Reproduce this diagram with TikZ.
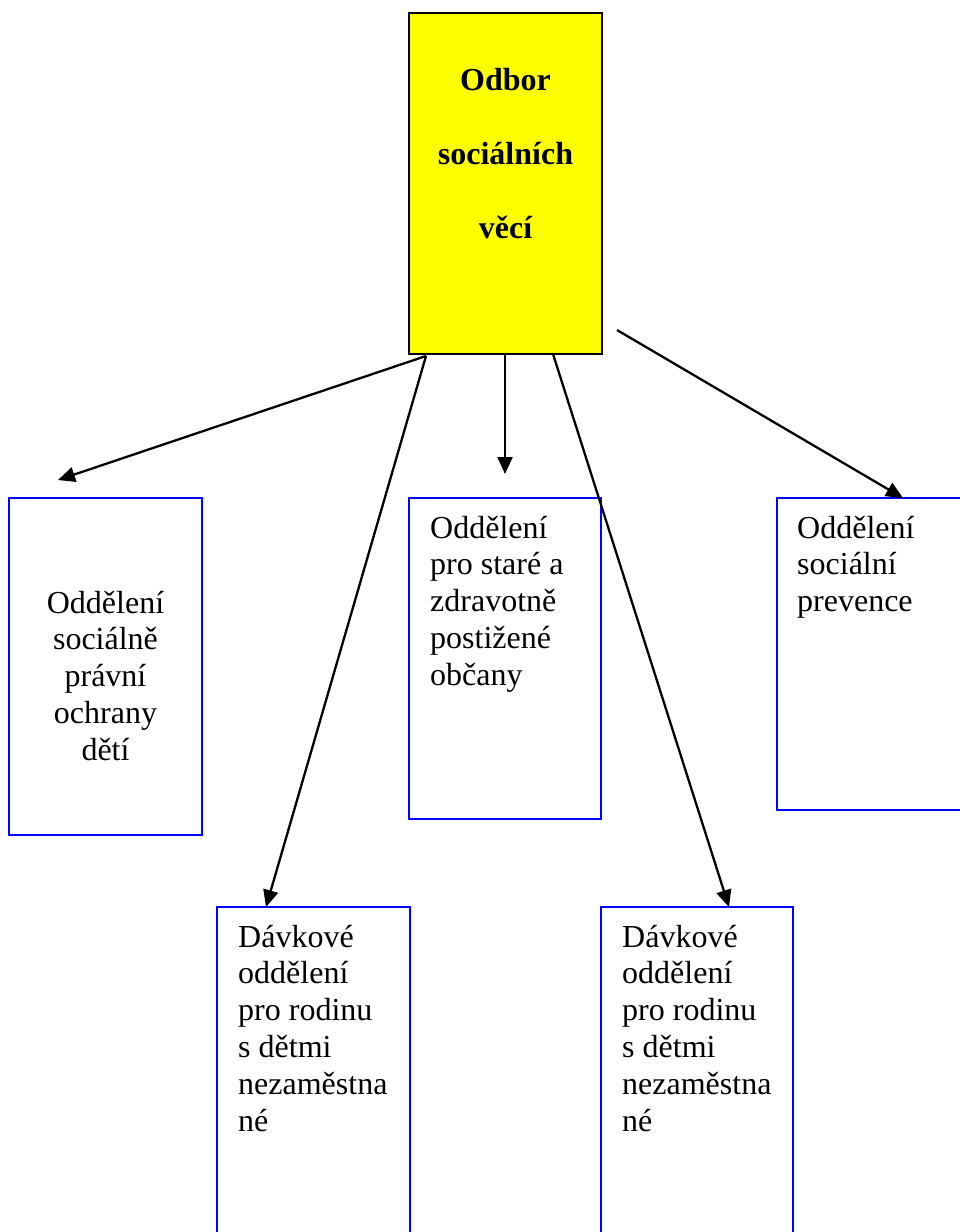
\documentclass[tikz,border=0pt]{standalone}
\usepackage{fontspec}
\setmainfont{Liberation Serif}
\usetikzlibrary{arrows.meta}
\begin{document}
\begin{tikzpicture}[x=1pt,y=-1pt,
  box/.style={draw={rgb,255:red,0;green,0;blue,255}, line width=2pt, inner sep=0pt, outer sep=0pt, anchor=north west},
  headbox/.style={draw=black, fill={rgb,255:red,255;green,255;blue,0}, line width=2pt, inner sep=0pt, outer sep=0pt, anchor=north west},
  lbl/.style={font=\fontsize{32}{36.8}\selectfont, inner sep=0pt, anchor=base west},
  clbl/.style={font=\fontsize{32}{36.8}\selectfont, inner sep=0pt, anchor=base},
  hlbl/.style={font=\fontsize{32}{74}\selectfont\bfseries, inner sep=0pt, anchor=base},
  conn/.style={line width=2.3pt, -{Triangle[length=17pt,width=15pt]}}]
\useasboundingbox (0,0) rectangle (960,1232);
% head box
\node[headbox, minimum width=193pt, minimum height=341pt] (odbor) at (409,13) {};
\node[hlbl] (odbortext) at (505.5,90) {\begin{tabular}[t]{@{}c@{}}Odbor\\sociálních\\věcí\end{tabular}};
% departments
\node[box, minimum width=193pt, minimum height=337pt] (ospod) at (9,498) {};
\node[clbl] (ospodtext) at (105.5,613) {\begin{tabular}[t]{@{}c@{}}Oddělení\\sociálně\\právní\\ochrany\\dětí\end{tabular}};
\node[box, minimum width=192pt, minimum height=321pt] (stare) at (409,498) {};
\node[lbl] (staretext) at (430,538) {\begin{tabular}[t]{@{}l@{}}Oddělení\\pro staré a\\zdravotně\\postižené\\občany\end{tabular}};
\node[box, minimum width=200pt, minimum height=312pt] (prev) at (777,498) {};
\node[lbl] (prevtext) at (797,538) {\begin{tabular}[t]{@{}l@{}}Oddělení\\sociální\\prevence\end{tabular}};
\node[box, minimum width=193pt, minimum height=345pt] (davka) at (217,907) {};
\node[lbl] (davkatext) at (238,947) {\begin{tabular}[t]{@{}l@{}}Dávkové\\oddělení\\pro rodinu\\s dětmi\\nezaměstna\\né\end{tabular}};
\node[box, minimum width=192pt, minimum height=345pt] (davkb) at (601,907) {};
\node[lbl] (davkbtext) at (622,947) {\begin{tabular}[t]{@{}l@{}}Dávkové\\oddělení\\pro rodinu\\s dětmi\\nezaměstna\\né\end{tabular}};
% connector ends
\coordinate (s1) at (426,356);
\coordinate (s3) at (505,354);
\coordinate (s4) at (553,354);
\coordinate (s5) at (617,330);
\coordinate (e1) at (58,480);
\coordinate (e2) at (266,907);
\coordinate (e3) at (505,474);
\coordinate (e4) at (729,907);
\coordinate (e5) at (903,498);
\draw[conn] (s1) -- (e1);
\draw[conn] (s1) -- (e2);
\draw[conn] (s3) -- (e3);
\draw[conn] (s4) -- (e4);
\draw[conn] (s5) -- (e5);
\end{tikzpicture}
\end{document}
